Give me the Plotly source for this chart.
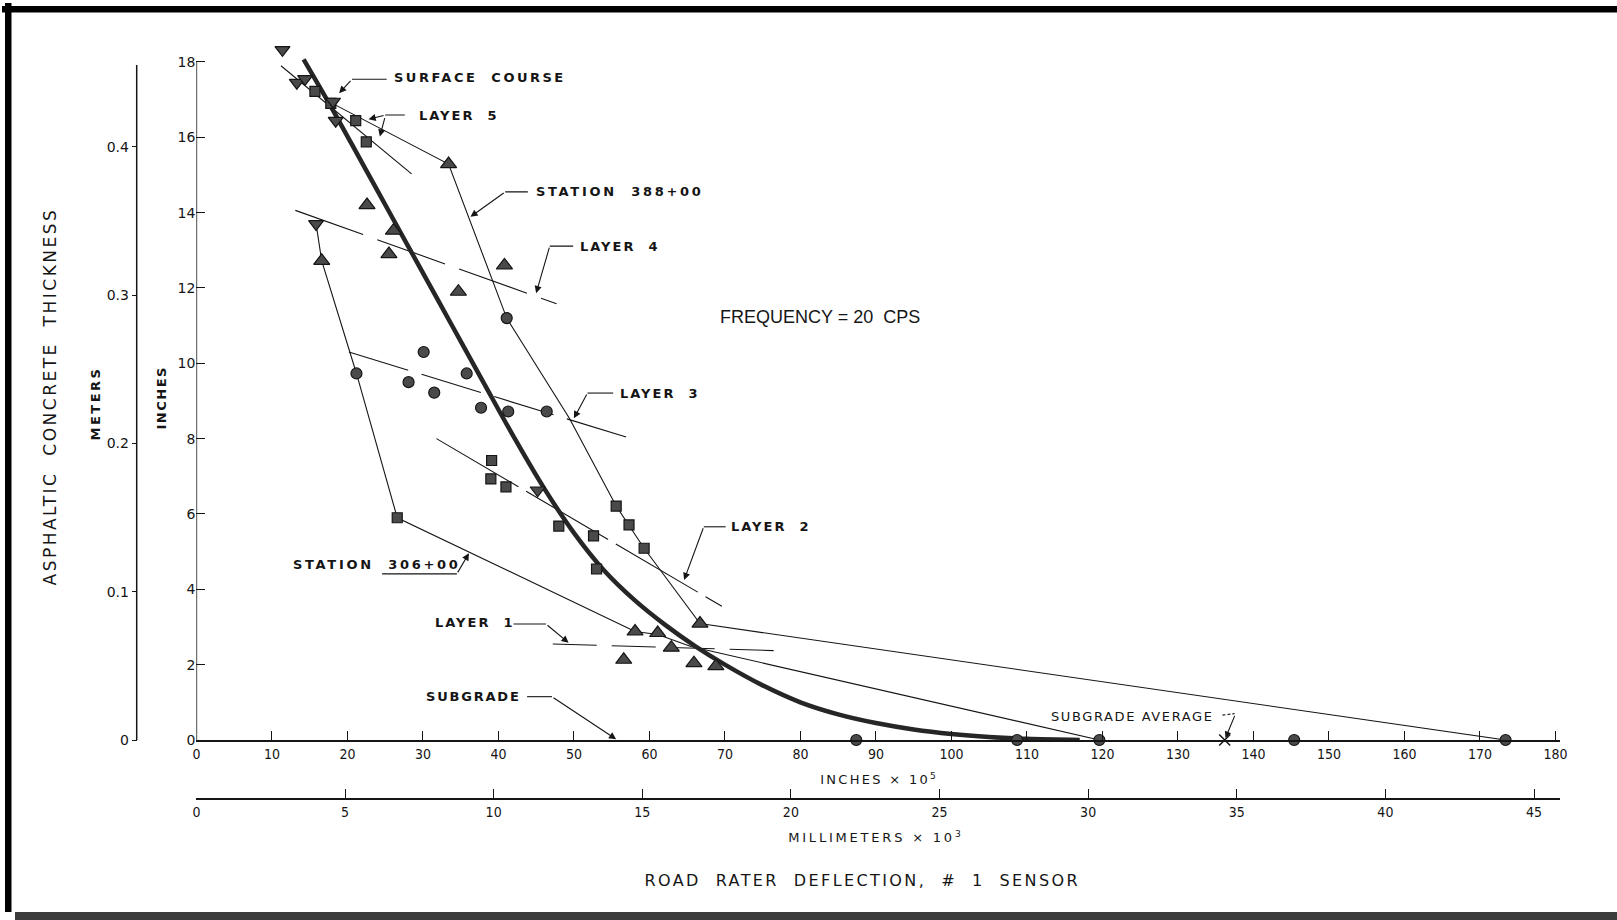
import plotly.graph_objects as go

# ---------------- data (deflection in inches x 1e5, thickness in inches) ----------------
tri_x = [33.4, 22.6, 26.1, 25.5, 40.8, 34.7, 16.6, 66.7, 58.1, 61.1, 62.9, 56.6, 65.9, 68.8]
tri_y = [15.29, 14.2, 13.52, 12.9, 12.6, 11.9, 12.72, 3.09, 2.88, 2.84, 2.45, 2.13, 2.04, 1.96]

circ_x = [41.1, 30.1, 21.2, 35.8, 28.1, 31.5, 37.7, 41.3, 46.4, 87.4, 108.7, 119.6, 145.4, 173.4]
circ_y = [11.2, 10.3, 9.73, 9.73, 9.5, 9.22, 8.82, 8.72, 8.72, 0, 0, 0, 0, 0]

sq_x = [15.7, 21.1, 22.5, 39.1, 39.0, 41.0, 48.0, 52.6, 53.0, 55.6, 57.3, 59.3, 26.6, 17.8]
sq_y = [17.22, 16.44, 15.88, 7.42, 6.93, 6.72, 5.68, 5.42, 4.54, 6.21, 5.71, 5.09, 5.9, 16.9]

itri_x = [11.4, 13.3, 14.4, 18.1, 18.45, 15.85, 45.2]
itri_y = [18.32, 17.45, 17.55, 16.95, 16.44, 13.7, 6.63]

subavg_x = [136.2]
subavg_y = [0]

# lines
st388_x = [18.0, 33.4, 41.1, 49.4, 55.6, 57.3, 59.3, 66.7, 173.4]
st388_y = [16.9, 15.29, 11.2, 8.54, 6.21, 5.71, 5.09, 3.09, 0]
st306_x = [15.85, 16.6, 21.2, 26.6, 58.1, 61.1, 65.5, 119.6]
st306_y = [13.7, 12.72, 9.73, 5.9, 2.88, 2.80, 2.48, 0]
curve_x = [14.2, 18, 22, 26, 30, 34, 38, 42, 46, 50, 54, 58, 62, 66, 70, 75, 80, 85, 90, 95,
           100, 105, 110, 117]
curve_y = [18.07, 16.75, 15.3, 13.85, 12.4, 10.95, 9.5, 8.06, 6.7, 5.5, 4.5, 3.72, 3.07, 2.5,
           2.0, 1.45, 1.0, 0.68, 0.45, 0.28, 0.16, 0.08, 0.03, 0.0]
layer5_x = [11.2, 28.5]
layer5_y = [17.9, 15.03]
layer4_x = [13.1, 47.7]
layer4_y = [14.06, 11.58]
layer3_x = [20.2, 57.6]
layer3_y = [10.3, 8.0]
layer2_x = [31.8, 69.6]
layer2_y = [8.0, 3.55]
layer1_x = [47.2, 77.0]
layer1_y = [2.55, 2.37]

in_ticks = list(range(0, 181, 10))
mm_ticks = list(range(0, 46, 5))
inch_ticks = list(range(0, 19, 2))
m_ticks = [0, 0.1, 0.2, 0.3, 0.4]
m_labels = ["0", "0.1", "0.2", "0.3", "0.4"]

# ---------------- layout geometry (pixels) ----------------
W, H = 1617, 920
ML, MR, MT, MB = 30, 57, 35, 30
PW, PH = W - ML - MR, H - MT - MB
X0, XPX = 196.4, 7.55          # pixel of x=0, px per unit
Y0, YPX = 740.0, 37.67         # pixel of y=0, px per inch
XMAX = (ML + PW - X0) / XPX
YMAX = (Y0 - MT) / YPX


def px(X):
    return (X - ML) / PW


def py(Y):
    return (H - MB - Y) / PH


INK = "#151515"
MFILL = "#4a4a4a"
LBL = dict(family="DejaVu Sans", size=13, color=INK, weight="bold")
TICKF = dict(family="DejaVu Sans Condensed, Liberation Sans Narrow, DejaVu Sans", size=14, color=INK)

fig = go.Figure()


def line(x, y, width=1.1, dash="solid", color=INK):
    fig.add_trace(go.Scatter(x=x, y=y, mode="lines", line=dict(color=color, width=width, dash=dash),
                             hoverinfo="skip", showlegend=False))


line(layer5_x, layer5_y)
line(layer4_x, layer4_y, dash="72px,15px")
line(layer3_x, layer3_y, dash="62px,14px")
line(layer2_x, layer2_y, dash="95px,9px")
line(layer1_x, layer1_y, dash="44px,15px")
line(st388_x, st388_y)
line(st306_x, st306_y)
fig.add_trace(go.Scatter(x=curve_x, y=curve_y, mode="lines",
                         line=dict(color="#262626", width=4.5, shape="spline", smoothing=1.0),
                         hoverinfo="skip", showlegend=False))


def pts(x, y, symbol, size):
    fig.add_trace(go.Scatter(x=x, y=y, mode="markers", cliponaxis=False,
                             marker=dict(symbol=symbol, size=size, color=MFILL, line=dict(color=INK, width=1.2)),
                             hoverinfo="skip", showlegend=False))


pts(tri_x, tri_y, "triangle-up", 14)
pts(circ_x, circ_y, "circle", 11)
pts(sq_x, sq_y, "square", 10)
pts(itri_x, itri_y, "triangle-down", 13)
fig.add_trace(go.Scatter(x=subavg_x, y=subavg_y, mode="markers", cliponaxis=False,
                         marker=dict(symbol="x-thin", size=11, line=dict(color=INK, width=1.5)),
                         hoverinfo="skip", showlegend=False))
# helper so that the millimetre axis is drawn
fig.add_trace(go.Scatter(x=[], y=[], xaxis="x2", yaxis="y", showlegend=False))

annotations = []
shapes = []

# labels with leaders: (text, text_x, text_y, horizontal leader [x0,x1,y], arrows [(tailx,taily,tipx,tipy)])
labels = [
    ("SURFACE  COURSE", 25.9, 17.6, (20.6, 25.2, 17.54), [(20.6, 17.54, 18.9, 17.17)]),
    ("LAYER  5", 29.2, 16.58, (25.0, 27.6, 16.59), [(25.0, 16.59, 22.8, 16.48), (25.0, 16.55, 24.3, 16.02)]),
    ("STATION  388+00", 44.7, 14.55, (40.9, 43.9, 14.55), [(40.9, 14.55, 36.3, 13.89)]),
    ("LAYER  4", 50.5, 13.11, (46.8, 49.9, 13.11), [(46.8, 13.11, 45.0, 11.86)]),
    ("LAYER  3", 55.8, 9.21, (51.8, 55.2, 9.21), [(51.8, 9.21, 50.0, 8.54)]),
    ("LAYER  2", 70.6, 5.66, (67.2, 70.1, 5.66), [(67.2, 5.66, 64.6, 4.25)]),
    ("STATION  306+00", 12.5, 4.65, (24.6, 34.5, 4.41), [(34.5, 4.41, 36.1, 4.96)]),
    ("LAYER  1", 31.3, 3.11, (42.0, 46.3, 3.08), [(46.3, 3.08, 49.3, 2.58)]),
    ("SUBGRADE", 30.2, 1.15, (43.8, 47.1, 1.15), [(47.1, 1.15, 55.6, 0.02)]),
]
for text, tx, ty, hl, arrows in labels:
    annotations.append(dict(x=tx, y=ty, xref="x", yref="y", text=text, showarrow=False, align="left",
                            xanchor="left", yanchor="middle", font=LBL))
    shapes.append(dict(type="line", xref="x", yref="y", x0=hl[0], x1=hl[1], y0=hl[2], y1=hl[2],
                       line=dict(color=INK, width=1.1)))
    for ax_, ay_, x_, y_ in arrows:
        annotations.append(dict(x=x_, y=y_, ax=ax_, ay=ay_, xref="x", yref="y", axref="x", ayref="y",
                                text="", showarrow=True, arrowhead=2, arrowsize=1.3, arrowwidth=1.1,
                                arrowcolor=INK, standoff=0, startstandoff=0))

# subgrade average
annotations.append(dict(x=112.9, y=0.62, xref="x", yref="y", text="SUBGRADE AVERAGE", showarrow=False,
                        xanchor="left", yanchor="middle", align="left",
                        font=dict(family="DejaVu Sans", size=13, color=INK)))
shapes.append(dict(type="line", xref="x", yref="y", x0=135.9, x1=137.5, y0=0.66, y1=0.70,
                   line=dict(color=INK, width=1.1, dash="3px,2px")))
annotations.append(dict(x=136.3, y=0.05, ax=137.6, ay=0.68, xref="x", yref="y", axref="x", ayref="y",
                        text="", showarrow=True, arrowhead=2, arrowsize=1.2, arrowwidth=1.1, arrowcolor=INK,
                        standoff=0))

annotations.append(dict(x=69.1, y=11.23, xref="x", yref="y", text="FREQUENCY = 20  CPS", showarrow=False,
                        xanchor="left", yanchor="middle", align="left",
                        font=dict(family="Liberation Sans, Arial, sans-serif", size=18, color=INK)))

# axis titles
PLAIN = dict(family="DejaVu Sans", color=INK)
annotations += [
    dict(x=px(879), y=py(779), xref="paper", yref="paper", text="INCHES × 10<sup>5</sup>", showarrow=False,
         xanchor="center", yanchor="middle", font=dict(PLAIN, size=13)),
    dict(x=px(876), y=py(837), xref="paper", yref="paper", text="MILLIMETERS × 10<sup>3</sup>", showarrow=False,
         xanchor="center", yanchor="middle", font=dict(PLAIN, size=13)),
    dict(x=px(862), y=py(880), xref="paper", yref="paper", text="ROAD  RATER  DEFLECTION,  #  1  SENSOR",
         showarrow=False, xanchor="center", yanchor="middle", font=dict(PLAIN, size=16)),
    dict(x=px(50), y=py(397), xref="paper", yref="paper", text="ASPHALTIC  CONCRETE  THICKNESS",
         showarrow=False, textangle=-90, xanchor="center", yanchor="middle", font=dict(PLAIN, size=17)),
    dict(x=px(95), y=py(404), xref="paper", yref="paper", text="METERS", showarrow=False, textangle=-90,
         xanchor="center", yanchor="middle", font=dict(PLAIN, size=13, weight="bold")),
    dict(x=px(161), y=py(398), xref="paper", yref="paper", text="INCHES", showarrow=False, textangle=-90,
         xanchor="center", yanchor="middle", font=dict(PLAIN, size=13, weight="bold")),
]

# axis lines drawn as shapes (y axes stop at 18 in)
shapes.append(dict(type="line", xref="x", yref="y", x0=0, x1=0, y0=0, y1=18, line=dict(color=INK, width=1.5)))
shapes.append(dict(type="line", xref="paper", yref="y", x0=px(136.7), x1=px(136.7), y0=0, y1=17.92,
                   line=dict(color=INK, width=1.5)))

# page frame (scan border)
shapes += [
    dict(type="rect", xref="paper", yref="paper", x0=px(2), x1=px(W + 2), y0=py(6), y1=py(12.5),
         fillcolor="#000", line=dict(width=0), layer="above"),
    dict(type="rect", xref="paper", yref="paper", x0=px(5), x1=px(11.5), y0=py(3), y1=py(912),
         fillcolor="#000", line=dict(width=0), layer="above"),
    dict(type="rect", xref="paper", yref="paper", x0=px(15), x1=px(W + 2), y0=py(912), y1=py(H + 2),
         fillcolor="#3c3c3c", line=dict(width=0), layer="above"),
]

xd0 = px(X0)
fig.update_layout(
    width=W, height=H, margin=dict(l=ML, r=MR, t=MT, b=MB),
    paper_bgcolor="white", plot_bgcolor="white", showlegend=False,
    xaxis=dict(domain=[xd0, 1], range=[0, XMAX], showgrid=False, zeroline=False, showline=True,
               linecolor=INK, linewidth=1.5, ticks="inside", ticklen=9, tickwidth=1.2, tickcolor=INK,
               tickvals=in_ticks, ticktext=[str(v) for v in in_ticks], tickfont=TICKF, automargin=False),
    yaxis=dict(domain=[py(Y0), 1], range=[0, YMAX], showgrid=False, zeroline=False, showline=False,
               ticks="inside", ticklen=9, tickwidth=1.2, tickcolor=INK, tickvals=inch_ticks,
               ticktext=[str(v) for v in inch_ticks], automargin=False,
               tickfont=dict(family="DejaVu Sans", size=14, color=INK)),
    xaxis2=dict(overlaying="x", anchor="free", position=py(799), domain=[xd0, 1], range=[0, XMAX * 0.254],
                showgrid=False, zeroline=False, showline=True, linecolor=INK, linewidth=1.5,
                ticks="inside", ticklen=9, tickwidth=1.2, tickcolor=INK, tickvals=mm_ticks,
                ticktext=[str(v) for v in mm_ticks], tickfont=TICKF, automargin=False, side="bottom"),
    yaxis2=dict(overlaying="y", anchor="free", position=px(136.7), range=[0, YMAX * 0.0254],
                showgrid=False, zeroline=False, showline=False, ticks="outside", ticklen=5, tickwidth=1.2,
                tickcolor=INK, tickvals=m_ticks, ticktext=m_labels, side="left", automargin=False,
                tickfont=dict(family="DejaVu Sans", size=14, color=INK)),
    annotations=annotations, shapes=shapes,
)
# helper so that the metre axis is drawn
fig.add_trace(go.Scatter(x=[], y=[], xaxis="x", yaxis="y2", showlegend=False))

# remove the default page margin and widen the lettering like the original drawing
post = """
document.body.style.margin = '0px';
var sp = [['SURFACE', '2.5px'], ['LAYER', '2.0px'], ['STATION', '2.7px'], ['SUBGRADE AVERAGE', '1.6px'],
          ['SUBGRADE', '1.8px'], ['ASPHALTIC', '2.5px'], ['ROAD', '2.4px'], ['METERS', '2.5px'],
          ['INCHES ×', '2.3px'], ['INCHES', '1.5px'], ['MILLIMETERS', '2.8px']];
var gd = document.getElementById('{plot_id}');
gd.querySelectorAll('text.annotation-text').forEach(function (t) {
  var s = t.textContent;
  for (var i = 0; i < sp.length; i++) {
    if (s.indexOf(sp[i][0]) === 0) { t.style.letterSpacing = sp[i][1]; break; }
  }
});
"""
fig.write_html("out.html", post_script=post, config={"displayModeBar": False})
